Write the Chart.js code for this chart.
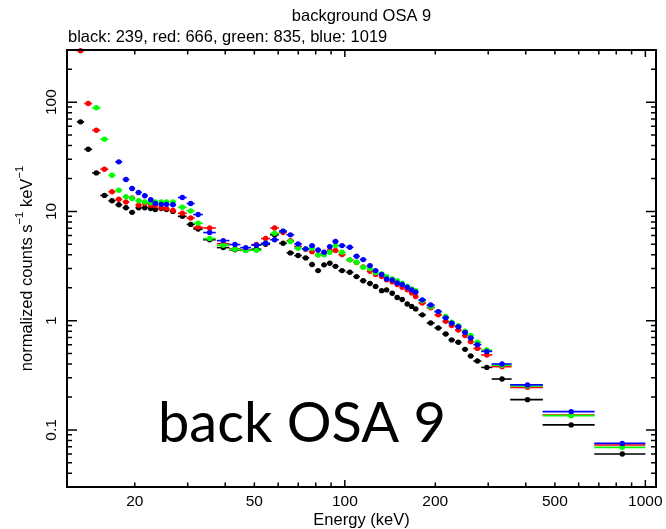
<!DOCTYPE html>
<html>
<head>
<meta charset="utf-8">
<title>background OSA 9</title>
<script src="https://cdn.jsdelivr.net/npm/chart.js@4.4.1/dist/chart.umd.min.js"></script>
<style>
    body { margin: 0; background: #fff; }
    #wrap { width: 666px; height: 529px; }
</style>
</head>
<body>
<div id="wrap"><canvas id="myChart" width="666" height="529"></canvas></div>
<script>
// bin centres and half widths (keV)
const energy = [13.2, 14.0, 14.9, 15.85, 16.8, 17.7, 18.7, 19.6, 20.6, 21.6,
    22.6, 23.4, 24.5, 25.5, 26.8, 28.8, 30.7, 32.5, 35.5, 39.4,
    43.1, 46.8, 50.8, 54.5, 58.4, 62.3, 65.9, 69.9, 74.1, 77.8,
    81.5, 85.3, 89.1, 93.1, 97.9, 103.9, 109.4, 115.1, 121.2, 126.6,
    132.6, 137.7, 143.8, 149.4, 155.2, 161.3, 166.9, 172.1, 181.0, 193.1,
    204.6, 216.6, 226.8, 238.6, 251.2, 262.4, 276.1, 296.8, 333.5, 405.5,
    566.5, 838];
const energyErr = [0.37, 0.42, 0.47, 0.49, 0.46, 0.47, 0.48, 0.47, 0.5, 0.49,
    0.47, 0.49, 0.52, 0.56, 0.65, 0.97, 0.94, 1.19, 1.7, 1.9,
    1.84, 1.92, 1.95, 1.9, 1.93, 1.87, 1.9, 2.04, 1.99, 1.85,
    1.88, 1.9, 1.95, 2.2, 2.67, 2.87, 2.77, 2.92, 2.88, 2.82,
    2.8, 2.8, 2.92, 2.87, 2.98, 2.91, 2.69, 3.5, 5.2, 5.9,
    5.9, 5.6, 5.5, 6.1, 6.0, 6.2, 8.5, 12.5, 25.5, 50.5,
    111.5, 162];

// normalized counts s^-1 keV^-1 per revolution
const rev239 = [66, 37, 22.5, 14.0, 12.5, 11.5, 10.8, 9.8, 10.8, 10.8,
    10.6, 10.4, 10.6, 10.4, 10.0, 9.0, 7.6, 6.9, 5.5, 4.66,
    4.45, 4.4, 4.5, 5.0, 6.1, 5.1, 4.17, 3.94, 3.75, 3.26,
    2.87, 3.24, 3.35, 3.14, 2.87, 2.77, 2.53, 2.32, 2.19, 2.05,
    1.88, 1.91, 1.78, 1.63, 1.56, 1.42, 1.35, 1.28, 1.13, 0.95,
    0.857, 0.755, 0.666, 0.633, 0.546, 0.475, 0.427, 0.373, 0.292, 0.189,
    0.111, 0.0601];
const rev666 = [295, 97, 55.3, 24.3, 15.1, 12.9, 12.2, 13.3, 11.4, 11.8,
    11.4, 11.3, 10.8, 10.6, 10.2, 9.6, 8.7, 7.15, 7.05, 5.06,
    4.55, 4.45, 4.97, 5.64, 7.05, 6.4, 5.4, 4.76, 4.5, 4.28,
    4.0, 4.05, 4.4, 4.38, 4.02, 3.6, 3.4, 3.1, 2.83, 2.64,
    2.53, 2.37, 2.27, 2.14, 2.02, 1.92, 1.79, 1.66, 1.45, 1.31,
    1.13, 0.985, 0.9, 0.82, 0.73, 0.642, 0.557, 0.485, 0.379, 0.245,
    0.137, 0.0728];
const rev835 = [null, null, 88.7, 45.8, 21.4, 15.6, 13.6, 13.1, 12.5, 12.2,
    12.0, 12.2, 12.2, 12.2, 12.2, 10.9, 10.1, 7.8, 5.64, 4.9,
    4.5, 4.4, 4.4, 5.1, 6.3, 6.6, 5.3, 4.6, 4.54, 4.6,
    4.0, 4.0, 4.22, 4.86, 4.22, 3.6, 3.42, 3.08, 2.99, 2.75,
    2.68, 2.53, 2.41, 2.32, 2.2, 2.06, 1.95, 1.88, 1.52, 1.34,
    1.21, 1.09, 0.965, 0.9, 0.8, 0.73, 0.633, 0.539, 0.391, 0.252,
    0.135, 0.0692];
const rev1019 = [null, null, null, null, null, 28.4, 19.6, 16.2, 14.9, 13.9,
    12.8, 11.8, 11.6, 11.6, 11.5, 13.4, 11.8, 9.35, 6.4, 5.4,
    4.97, 4.66, 4.9, 5.1, 5.5, 6.6, 6.1, 5.04, 4.54, 4.86,
    4.43, 4.22, 4.76, 5.3, 4.86, 4.69, 3.88, 3.62, 3.19, 2.87,
    2.64, 2.41, 2.36, 2.21, 2.14, 2.02, 1.91, 1.82, 1.55, 1.39,
    1.21, 1.06, 0.945, 0.88, 0.78, 0.694, 0.603, 0.523, 0.401, 0.258,
    0.147, 0.0752];

const xTickLabels = [20, 50, 100, 200, 500, 1000];
const yTickLabels = [0.1, 1, 10, 100];

const FONT = "'Liberation Sans', Arial, sans-serif";

function toPoints(values) {
    const pts = [];
    values.forEach((v, i) => {
        if (v !== null) pts.push({ x: energy[i], y: v, xErr: energyErr[i] });
    });
    return pts;
}

function makeSet(label, values, color, order) {
    return {
        label: label,
        data: toPoints(values),
        backgroundColor: color,
        borderColor: color,
        pointRadius: 2.7,
        pointBorderWidth: 0,
        pointHoverRadius: 2.7,
        order: order,
        clip: 6
    };
}

// horizontal error bars, drawn right before each dataset's points
const errorBars = {
    id: 'errorBars',
    beforeDatasetDraw(chart, args) {
        const c = chart.ctx;
        const xs = chart.scales.x;
        const ys = chart.scales.y;
        const ds = chart.data.datasets[args.index];
        c.save();
        c.strokeStyle = ds.borderColor;
        c.lineWidth = 1.6;
        ds.data.forEach(p => {
            const y = ys.getPixelForValue(p.y);
            c.beginPath();
            c.moveTo(xs.getPixelForValue(p.x - p.xErr), y);
            c.lineTo(xs.getPixelForValue(p.x + p.xErr), y);
            c.stroke();
        });
        c.restore();
    }
};

function drawRich(c, parts, size) {
    // parts centred around 0, baseline at 0
    let total = 0;
    parts.forEach(p => {
        c.font = (p.sup ? size * 0.68 : size) + "px " + FONT;
        p.w = c.measureText(p.t).width;
        total += p.w;
    });
    let x = -total / 2;
    parts.forEach(p => {
        c.font = (p.sup ? size * 0.68 : size) + "px " + FONT;
        c.fillText(p.t, x, p.sup ? -size * 0.42 : 0);
        x += p.w;
    });
}

// frame, inward ticks, labels and titles
const frame = {
    id: 'frame',
    afterDraw(chart) {
        const c = chart.ctx;
        const a = chart.chartArea;
        const xs = chart.scales.x;
        const ys = chart.scales.y;
        c.save();
        c.strokeStyle = '#000';
        c.fillStyle = '#000';
        c.lineWidth = 1.5;

        // x ticks, top and bottom
        for (let d = 10; d <= 1000; d *= 10) {
            for (let m = 1; m < 10; m++) {
                const v = d * m;
                if (v < xs.min || v > xs.max) continue;
                const px = xs.getPixelForValue(v);
                const len = m === 1 ? 7 : 4.5;
                c.beginPath();
                c.moveTo(px, a.bottom); c.lineTo(px, a.bottom - len);
                c.moveTo(px, a.top); c.lineTo(px, a.top + len);
                c.stroke();
            }
        }
        // y ticks, left and right
        for (let d = 0.01; d <= 100; d *= 10) {
            for (let m = 1; m < 10; m++) {
                const v = d * m;
                if (v < ys.min || v > ys.max * 1.0001) continue;
                const py = ys.getPixelForValue(v);
                const len = m === 1 ? 10 : 5;
                c.beginPath();
                c.moveTo(a.left, py); c.lineTo(a.left + len, py);
                c.moveTo(a.right, py); c.lineTo(a.right - len, py);
                c.stroke();
            }
        }

        c.lineWidth = 2;
        c.strokeRect(a.left, a.top, a.right - a.left, a.bottom - a.top);

        // tick labels
        c.font = "15.5px " + FONT;
        c.textAlign = 'center';
        c.textBaseline = 'middle';
        xTickLabels.forEach(v => {
            c.fillText(String(v), xs.getPixelForValue(v), a.bottom + 15);
        });
        yTickLabels.forEach(v => {
            c.save();
            c.translate(a.left - 15, ys.getPixelForValue(v));
            c.rotate(-Math.PI / 2);
            c.fillText(String(v), 0, 0);
            c.restore();
        });

        // axis titles
        c.font = "16.5px " + FONT;
        c.textBaseline = 'middle';
        c.fillText('Energy (keV)', (a.left + a.right) / 2, a.bottom + 33);

        c.save();
        c.translate(27, (a.top + a.bottom) / 2);
        c.rotate(-Math.PI / 2);
        c.textAlign = 'left';
        c.textBaseline = 'middle';
        drawRich(c, [
            { t: 'normalized counts s' },
            { t: '\u22121', sup: true },
            { t: ' keV' },
            { t: '\u22121', sup: true }
        ], 16.5);
        c.restore();

        // titles
        c.font = "16.5px " + FONT;
        c.textBaseline = 'alphabetic';
        c.textAlign = 'center';
        c.fillText('background OSA 9', (a.left + a.right) / 2, 21);
        c.textAlign = 'left';
        c.fillText('black: 239, red: 666, green: 835, blue: 1019', a.left + 1, 42);

        // big overlay label
        c.font = "56px Lato, 'Open Sans', sans-serif";
        c.fillText('back OSA 9', 158, 442);
        c.restore();
    }
};

const ctx = document.getElementById('myChart');

const chart = new Chart(ctx, {
    type: 'scatter',
    data: {
        datasets: [
            makeSet('239', rev239, '#000000', 3),
            makeSet('666', rev666, '#ff0000', 2),
            makeSet('835', rev835, '#00ff00', 1),
            makeSet('1019', rev1019, '#0000ff', 0)
        ]
    },
    options: {
        responsive: false,
        animation: false,
        layout: {
            padding: { left: 67, right: 10, top: 50, bottom: 42 }
        },
        plugins: {
            legend: { display: false },
            tooltip: { enabled: false }
        },
        scales: {
            x: { type: 'logarithmic', min: 11.9, max: 1085, display: false },
            y: { type: 'logarithmic', min: 0.03, max: 300, display: false }
        }
    },
    plugins: [errorBars, frame]
});
</script>
</body>
</html>
